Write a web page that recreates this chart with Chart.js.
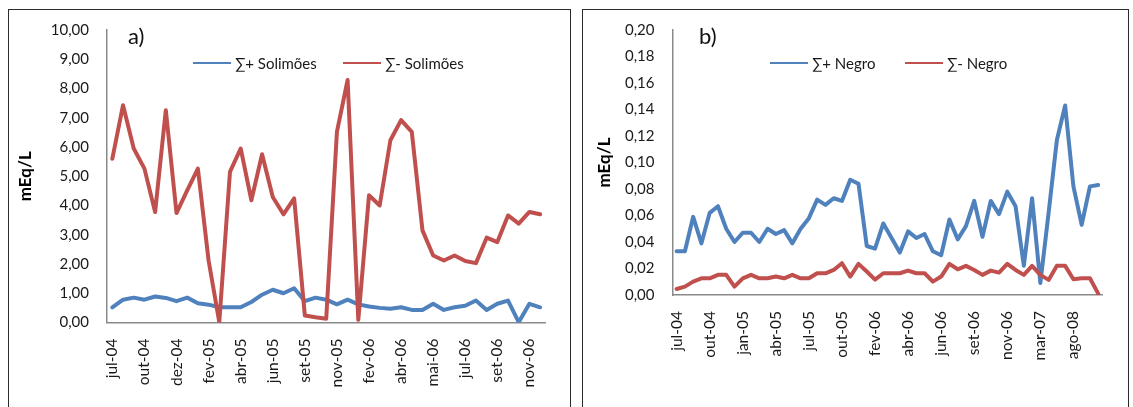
<!DOCTYPE html>
<html>
<head>
<meta charset="utf-8">
<script src="https://cdn.jsdelivr.net/npm/chart.js@4"></script>
<style>
  html, body { margin: 0; padding: 0; background: #fff; }
  body { width: 1133px; height: 407px; position: relative; overflow: hidden; font-family: Lato, "Open Sans", sans-serif; }
  .panel { position: absolute; top: 9px; height: 420px; border: 1.5px solid #2b2b2b; box-sizing: border-box; }
  .wrap { position: absolute; top: 0; height: 407px; }
  .tag { position: absolute; font-size: 22px; color: #111; line-height: 1; }
</style>
</head>
<body>
<div class="panel" style="left:8px;width:563px;"></div>
<div class="panel" style="left:582px;width:547px;"></div>
<div class="wrap" style="left:0;width:575px;"><canvas id="c1"></canvas></div>
<div class="wrap" style="left:575px;width:558px;"><canvas id="c2"></canvas></div>
<div class="tag" style="left:128px;top:25px;">a)</div>
<div class="tag" style="left:699px;top:25px;">b)</div>
<script>
// ---------- Data: panel a) Solimões ----------
const solTickLabels = ["jul-04","out-04","dez-04","fev-05","abr-05","jun-05","set-05","nov-05","fev-06","abr-06","mai-06","jul-06","set-06","nov-06"];
const solLabelEvery = 3;
const solPlus = [0.52,0.78,0.85,0.78,0.89,0.84,0.73,0.85,0.66,0.61,0.52,0.52,0.52,0.70,0.95,1.12,1.00,1.17,0.73,0.85,0.78,0.62,0.78,0.62,0.55,0.50,0.47,0.52,0.43,0.43,0.64,0.43,0.52,0.57,0.75,0.43,0.64,0.75,0.01,0.64,0.52];
const solMinus = [5.60,7.43,5.95,5.26,3.78,7.26,3.74,4.52,5.26,2.12,0.01,5.15,5.95,4.18,5.75,4.29,3.70,4.24,0.24,0.18,0.13,6.52,8.29,0.09,4.35,4.00,6.23,6.92,6.52,3.15,2.29,2.12,2.29,2.10,2.03,2.90,2.75,3.66,3.38,3.78,3.70];
const solYMax = 10, solYStep = 1;

// ---------- Data: panel b) Negro ----------
const negTickLabels = ["jul-04","out-04","jan-05","abr-05","jul-05","out-05","fev-06","abr-06","jun-06","set-06","nov-06","mar-07","ago-08"];
const negLabelEvery = 4;
const negPlus = [0.033,0.033,0.059,0.039,0.062,0.067,0.050,0.040,0.047,0.047,0.040,0.050,0.046,0.049,0.039,0.050,0.058,0.072,0.068,0.073,0.071,0.087,0.084,0.037,0.035,0.054,0.043,0.032,0.048,0.043,0.046,0.033,0.030,0.057,0.042,0.052,0.071,0.044,0.071,0.061,0.078,0.067,0.022,0.073,0.009,0.062,0.117,0.143,0.082,0.053,0.082,0.083];
const negMinus = [0.0045,0.0063,0.0101,0.0126,0.0126,0.0152,0.0152,0.0063,0.0126,0.0152,0.0126,0.0126,0.0139,0.0126,0.0152,0.0126,0.0126,0.0164,0.0164,0.0189,0.0240,0.0139,0.0235,0.0177,0.0116,0.0164,0.0164,0.0164,0.0184,0.0164,0.0164,0.0101,0.0139,0.0235,0.0194,0.0220,0.0189,0.0152,0.0184,0.0169,0.0235,0.0189,0.0152,0.0220,0.0152,0.0114,0.0220,0.0220,0.0119,0.0126,0.0126,0.0010];
const negYMax = 0.20, negYStep = 0.02;

const BLUE = '#4F81BD', RED = '#C0504D';
const FONT = 'Lato, "Open Sans", sans-serif';

function buildCategories(n, tickLabels, every) {
  return Array.from({length: n}, (_, i) => (i % every === 0 && tickLabels[i / every]) ? tickLabels[i / every] : '');
}

const legendPlugin = {
  id: 'panelLegend',
  afterDraw(chart, args, opts) {
    const ctx = chart.ctx;
    ctx.save();
    chart.data.datasets.forEach((ds, i) => {
      const it = opts.items[i];
      ctx.strokeStyle = ds.borderColor;
      ctx.lineWidth = 2;
      ctx.beginPath();
      ctx.moveTo(it.x, opts.y);
      ctx.lineTo(it.x + opts.lineLen, opts.y);
      ctx.stroke();
      ctx.fillStyle = '#1a1a1a';
      ctx.font = '15px ' + FONT;
      ctx.textBaseline = 'middle';
      ctx.textAlign = 'left';
      ctx.fillText(ds.label, it.x + opts.lineLen + 4, opts.y + 1);
    });
    ctx.restore();
  }
};

function makeChart(id, cfg) {
  const n = cfg.plus.length;
  return new Chart(document.getElementById(id), {
    type: 'line',
    data: {
      labels: buildCategories(n, cfg.tickLabels, cfg.every),
      datasets: [
        { label: cfg.plusLabel, data: cfg.plus, borderColor: BLUE, backgroundColor: BLUE, order: 2 },
        { label: cfg.minusLabel, data: cfg.minus, borderColor: RED, backgroundColor: RED, order: 1 }
      ]
    },
    options: {
      responsive: true,
      maintainAspectRatio: false,
      animation: false,
      devicePixelRatio: 1,
      layout: { padding: { top: 30, right: cfg.padRight, left: 10, bottom: 0 } },
      elements: {
        point: { radius: 0, hoverRadius: 0 },
        line: { borderWidth: 4, tension: 0, borderJoinStyle: 'round', borderCapStyle: 'round', fill: false }
      },
      plugins: {
        legend: { display: false },
        tooltip: { enabled: false },
        panelLegend: cfg.legend
      },
      scales: {
        x: {
          type: 'category',
          offset: true,
          grid: { display: false, drawTicks: false },
          border: { display: true, color: '#8a8a8a', width: 1.5 },
          ticks: {
            autoSkip: false, maxRotation: 90, minRotation: 90, padding: 16,
            color: '#1a1a1a', font: { family: FONT, size: 15.5 }
          },
          afterFit(scale) { scale.height = cfg.xHeight; }
        },
        y: {
          min: 0, max: cfg.yMax,
          grid: { display: false, drawTicks: false },
          border: { display: true, color: '#8a8a8a', width: 1.5 },
          ticks: {
            stepSize: cfg.yStep, padding: 18, color: '#1a1a1a',
            font: { family: FONT, size: 15 },
            callback: v => v.toFixed(2).replace('.', ',')
          },
          title: {
            display: true, text: 'mEq/L', color: '#000',
            font: { family: FONT, size: 17, weight: 'bold' },
            padding: { top: cfg.titlePad, bottom: 0 }
          },
          afterFit(scale) { scale.width = cfg.yWidth; }
        }
      }
    },
    plugins: [legendPlugin]
  });
}

makeChart('c1', {
  tickLabels: solTickLabels, every: solLabelEvery, plus: solPlus, minus: solMinus,
  plusLabel: '∑+ Solimões', minusLabel: '∑- Solimões',
  yMax: solYMax, yStep: solYStep,
  padRight: 24, xHeight: 84.5, yWidth: 97, titlePad: 5,
  legend: { y: 63, lineLen: 38, items: [{x: 193}, {x: 343}] }
});

makeChart('c2', {
  tickLabels: negTickLabels, every: negLabelEvery, plus: negPlus, minus: negMinus,
  plusLabel: '∑+ Negro', minusLabel: '∑- Negro',
  yMax: negYMax, yStep: negYStep,
  padRight: 20, xHeight: 112, yWidth: 87.5, titlePad: 9,
  legend: { y: 63, lineLen: 38, items: [{x: 195}, {x: 330}] }
});
</script>
</body>
</html>
